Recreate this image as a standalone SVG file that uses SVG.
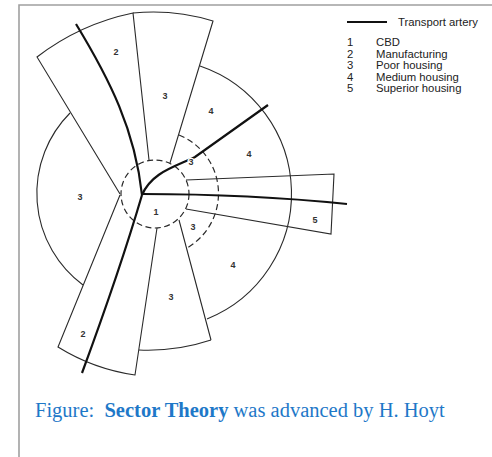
<svg xmlns="http://www.w3.org/2000/svg" width="492" height="457" viewBox="0 0 492 457">
<style>
.z{fill:none;stroke:#2a2a2a;stroke-width:1.1;stroke-linejoin:miter}
.d{fill:none;stroke:#2a2a2a;stroke-width:1.2;stroke-dasharray:6 3.5}
.a{fill:none;stroke:#111;stroke-width:2.2;stroke-linecap:butt}
.n{font-family:"Liberation Sans",Arial,sans-serif;font-size:9px;font-weight:bold;fill:#333;text-anchor:middle}
.nw{paint-order:stroke;stroke:#fff;stroke-width:2.5px}
.lg{font-family:"Liberation Sans",Arial,sans-serif;font-size:11.3px;fill:#222}
.cap{font-family:"Liberation Serif","Times New Roman",serif;font-size:20.5px;fill:#1e78c8}
</style>
<rect width="492" height="457" fill="#fff"/>
<path d="M19,457 V5 H492" fill="none" stroke="#a0a0a0" stroke-width="1.6"/>

<g id="zone-cbd">
<circle class="d" cx="155" cy="194" r="34"/>
<text class="n" x="156" y="215">1</text>
</g>
<g id="zone-manufacturing-north">
<path class="z" d="M120,194 L37,57 A236,236 0 0 1 133,13 L149,160"/>
<text class="n" x="116" y="55">2</text>
</g>
<g id="zone-poor-north">
<path class="z" d="M133,13 A203,203 0 0 1 213,21 L170,163"/>
<text class="n" x="165" y="99">3</text>
</g>
<g id="zone-poor-northeast">
<path class="d" d="M179,135 A63,63 0 0 1 187,248"/>
</g>
<g id="zone-medium-east">
<path class="z" d="M200,66 A135,135 0 0 1 207,319"/>
<text class="n" x="211" y="114">4</text>
<text class="n" x="249" y="157">4</text>
<text class="n" x="233" y="268">4</text>
</g>
<g id="zone-superior">
<path class="z" d="M186,180 L334,174 L331,234 L186,209"/>
<text class="n" x="315" y="223">5</text>
</g>
<g id="zone-poor-southeast">
<path class="z" d="M179,220 L211,340"/>
<text class="n" x="193" y="230">3</text>
</g>
<g id="zone-poor-south">
<path class="z" d="M211,340 A200,200 0 0 1 139,350"/>
<text class="n" x="171" y="300">3</text>
</g>
<g id="zone-manufacturing-south">
<path class="z" d="M120,195 L58,347 A200,200 0 0 0 135,375 L157,228"/>
<text class="n" x="83" y="337">2</text>
</g>
<g id="zone-poor-west">
<path class="z" d="M70,113 A114,114 0 0 0 83,285"/>
<text class="n" x="80" y="200">3</text>
</g>

<g id="connectors">
<path class="a" d="M76,24 C110,80 135,130 142,195"/>
<path class="a" d="M142,195 Q120,270 82,373"/>
<path class="a" d="M142,195 C152,172 175,167 195,157 L268,105"/>
<path class="a" d="M142,194 Q250,194 347,204"/>
</g>
<g id="zone-poor-northeast-label">
<text class="n nw" x="191" y="165">3</text>
</g>

<g id="legend">
<line class="a" x1="347" y1="22" x2="387" y2="22" stroke-width="2"/>
<text class="lg" x="398" y="26">Transport artery</text>
<text class="lg" x="347" y="46">1</text><text class="lg" x="376" y="46">CBD</text>
<text class="lg" x="347" y="57.5">2</text><text class="lg" x="376" y="57.5">Manufacturing</text>
<text class="lg" x="347" y="69">3</text><text class="lg" x="376" y="69">Poor housing</text>
<text class="lg" x="347" y="80.5">4</text><text class="lg" x="376" y="80.5">Medium housing</text>
<text class="lg" x="347" y="92">5</text><text class="lg" x="376" y="92">Superior housing</text>
</g>

<text class="cap" x="35" y="417" xml:space="preserve">Figure:  <tspan font-weight="bold">Sector Theory</tspan> was advanced by H. Hoyt</text>
</svg>
